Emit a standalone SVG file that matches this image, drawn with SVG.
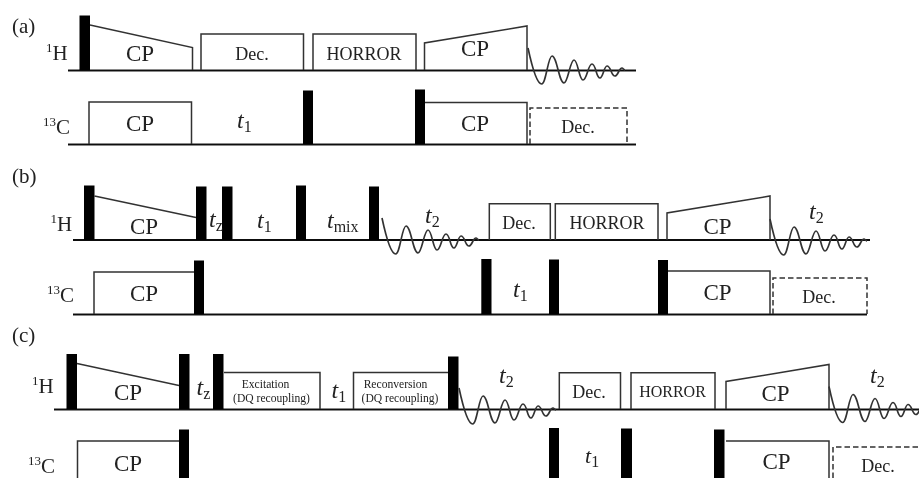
<svg xmlns="http://www.w3.org/2000/svg" xmlns:xlink="http://www.w3.org/1999/xlink" width="919" height="478" viewBox="0 0 919 478">
<style>
text{font-family:"Liberation Serif","Times New Roman",serif;fill:#222}
.m{text-anchor:middle}
.cp{font-size:23px}
.dec{font-size:18px}
.lb{font-size:21px}
.nuc{font-size:21px}
.sup{font-size:13px}
.t{font-size:24px;font-style:italic}
.sub{font-size:16px;font-style:normal}
.sm{font-size:11.6px}
.base{stroke:#111;stroke-width:2.2;fill:none}
.box{stroke:#333;stroke-width:1.5;fill:none}
.dash{stroke:#333;stroke-width:1.5;fill:none;stroke-dasharray:5.500 3}
.fid{stroke:#333;stroke-width:1.7;fill:none}
.p{fill:#000}
</style>
<defs>
<filter id="soft" x="-2%" y="-2%" width="104%" height="104%"><feGaussianBlur stdDeviation="0.35"/></filter>
<path id="fid" class="fid" d="M0,0C3,14 8,36 13.7,36C18,36 20,8 24,8C29,8 31,35 36,35C40,35 42,12 46,12C50,12 51,32 55,32C59,32 60,16 64,16C68,16 68,30 72,30C75,30 76,18 79,18C83,18 83,28 87,28C90,28 91,20 94,20C95,20 96,22 97,22"/>
</defs>
<rect width="919" height="478" fill="#fff"/>
<g filter="url(#soft)">
<g id="panel-a">
<text class="lb" x="12" y="33">(a)</text>
<path class="base" d="M68,70.500H636M68,144.500H636"/>
<path class="box" d="M90,25L192.500,47.500V70M201,70V34H303.500V70M313,70V34H416V70M424.500,70V43L527,26V70M89,144V102H191.500V144M425,102.500H527V144"/>
<path class="dash" d="M530,144V108H627V144"/>
<rect class="p" x="79.500" y="15.500" width="10.500" height="55"/>
<rect class="p" x="303" y="90.500" width="10" height="54"/>
<rect class="p" x="415" y="89.500" width="10" height="55"/>
<use xlink:href="#fid" href="#fid" transform="translate(528,48)"/>
<text class="nuc" x="46" y="60"><tspan class="sup" dy="-8">1</tspan><tspan dy="8">H</tspan></text>
<text class="nuc" x="43" y="134"><tspan class="sup" dy="-8">13</tspan><tspan dy="8">C</tspan></text>
<text class="cp m" x="140" y="61">CP</text>
<text class="dec m" x="252" y="59.500">Dec.</text>
<text class="dec m" x="364" y="59.500">HORROR</text>
<text class="cp m" x="475" y="56">CP</text>
<text class="cp m" x="140" y="131">CP</text>
<text class="t" x="237" y="128">t<tspan class="sub" dy="4">1</tspan></text>
<text class="cp m" x="475" y="131">CP</text>
<text class="dec m" x="578" y="133">Dec.</text>
</g>
<g id="panel-b">
<text class="lb" x="12" y="183">(b)</text>
<path class="base" d="M73,240H870M73,314.500H867"/>
<path class="box" d="M94.500,196L196,217.500M489.300,240V203.700H550.300V240M555.300,240V203.700H658V240M667,240V213L770,196V240M94,314V272H194M668,271H770V314"/>
<path class="dash" d="M773,314V278H867V314"/>
<rect class="p" x="84" y="185.500" width="10.500" height="55"/>
<rect class="p" x="196" y="186.500" width="10.500" height="54"/>
<rect class="p" x="222" y="186.500" width="10.500" height="54"/>
<rect class="p" x="296" y="185.500" width="10" height="55"/>
<rect class="p" x="369" y="186.500" width="10" height="54"/>
<rect class="p" x="194" y="260.500" width="10" height="54"/>
<rect class="p" x="481.300" y="259" width="10.200" height="55.500"/>
<rect class="p" x="549" y="259.500" width="10" height="55"/>
<rect class="p" x="658" y="260" width="10" height="54.500"/>
<use xlink:href="#fid" href="#fid" transform="translate(382,218)"/>
<use xlink:href="#fid" href="#fid" transform="translate(770,219)"/>
<text class="nuc" x="50.500" y="231"><tspan class="sup" dy="-8">1</tspan><tspan dy="8">H</tspan></text>
<text class="nuc" x="47" y="301.500"><tspan class="sup" dy="-8">13</tspan><tspan dy="8">C</tspan></text>
<text class="cp m" x="144" y="234">CP</text>
<text class="cp m" x="144" y="300.500">CP</text>
<text class="t" x="209" y="227">t<tspan class="sub" dy="4">z</tspan></text>
<text class="t" x="257" y="228">t<tspan class="sub" dy="4">1</tspan></text>
<text class="t" x="327" y="228">t<tspan class="sub" dy="4">mix</tspan></text>
<text class="t" x="425" y="223">t<tspan class="sub" dy="4">2</tspan></text>
<text class="dec m" x="519" y="229">Dec.</text>
<text class="dec m" x="607" y="229">HORROR</text>
<text class="cp m" x="717.500" y="234">CP</text>
<text class="t" x="809" y="219">t<tspan class="sub" dy="4">2</tspan></text>
<text class="t" x="513" y="296.500">t<tspan class="sub" dy="4">1</tspan></text>
<text class="cp m" x="717.500" y="300">CP</text>
<text class="dec m" x="819" y="303">Dec.</text>
</g>
<g id="panel-c">
<text class="lb" x="12" y="341.500">(c)</text>
<path class="base" d="M54,409.500H919"/>
<path class="box" d="M77,363.500L179,385.500M224,372.500H320V409M353.500,409V372.500H448M559.300,409V372.700H620.500V409M631,409V372.700H715V409M726,409V381.500L829,364.500V409M77.500,478V441H179M726,441H829V478"/>
<path class="dash" d="M833,478V447H919"/>
<rect class="p" x="66.500" y="354" width="10.500" height="55.500"/>
<rect class="p" x="179" y="354" width="10.500" height="55.500"/>
<rect class="p" x="213" y="354" width="10.500" height="55.500"/>
<rect class="p" x="448" y="356.500" width="10.500" height="53"/>
<rect class="p" x="179" y="429.500" width="10" height="49"/>
<rect class="p" x="549" y="428" width="10" height="50"/>
<rect class="p" x="621" y="428.500" width="11" height="50"/>
<rect class="p" x="714" y="429.500" width="10.500" height="49"/>
<use xlink:href="#fid" href="#fid" transform="translate(459,388)"/>
<use xlink:href="#fid" href="#fid" transform="translate(829,386.500)"/>
<text class="nuc" x="32" y="392.500"><tspan class="sup" dy="-8">1</tspan><tspan dy="8">H</tspan></text>
<text class="nuc" x="28" y="473"><tspan class="sup" dy="-8">13</tspan><tspan dy="8">C</tspan></text>
<text class="cp m" x="128" y="400">CP</text>
<text class="cp m" x="128" y="470.500">CP</text>
<text class="t" x="196.500" y="395">t<tspan class="sub" dy="4">z</tspan></text>
<text class="sm m" x="265.500" y="387.500">Excitation</text>
<text class="sm m" x="271.500" y="401.500">(DQ recoupling)</text>
<text class="t" x="331.500" y="398">t<tspan class="sub" dy="4">1</tspan></text>
<text class="sm m" x="395.500" y="387.500">Reconversion</text>
<text class="sm m" x="400" y="401.500">(DQ recoupling)</text>
<text class="t" x="499" y="383">t<tspan class="sub" dy="4">2</tspan></text>
<text class="dec m" x="589" y="398">Dec.</text>
<text class="m" style="font-size:16px" x="672.500" y="396.500">HORROR</text>
<text class="cp m" x="775.500" y="400.500">CP</text>
<text class="t" x="870" y="383">t<tspan class="sub" dy="4">2</tspan></text>
<text class="t" x="585" y="463" style="font-size:22px">t<tspan class="sub" dy="4">1</tspan></text>
<text class="cp m" x="776.500" y="469">CP</text>
<text class="dec m" x="878" y="471.500">Dec.</text>
</g>
</g>
</svg>
